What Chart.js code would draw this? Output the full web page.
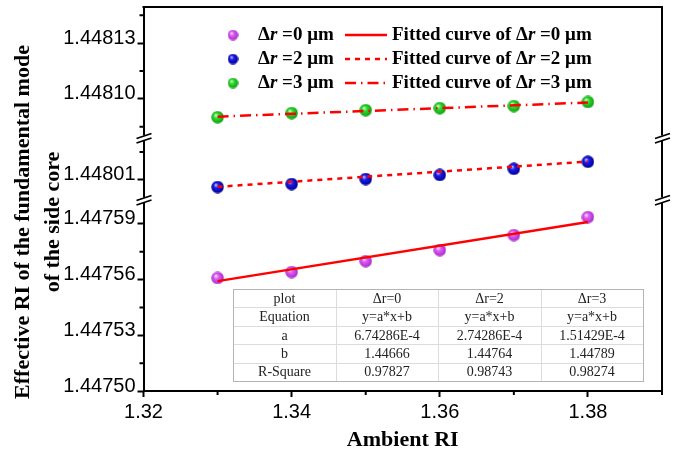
<!DOCTYPE html>
<html>
<head>
<meta charset="utf-8">
<script src="https://cdn.jsdelivr.net/npm/chart.js@4.4.1/dist/chart.umd.min.js"></script>
<style>
  html, body { margin: 0; padding: 0; background: #fff; }
</style>
</head>
<body>
<canvas id="myChart" width="682" height="453"></canvas>
<script>
// ambient refractive index (x) and effective index of the side-core mode (y)
var ambientRI = [1.33, 1.34, 1.35, 1.36, 1.37, 1.38];
var neffDr0 = [1.4475609, 1.4475641, 1.4475700, 1.4475759, 1.4475840, 1.4475937];
var neffDr2 = [1.4480062, 1.4480078, 1.4480105, 1.4480127, 1.4480160, 1.4480198];
var neffDr3 = [1.4480902, 1.4480924, 1.4480940, 1.4480951, 1.4480962, 1.4480984];

// fitted lines, end points
var fitRI = [1.33, 1.38];
var fitDr0 = [1.4475592, 1.4475910];
var fitDr2 = [1.4480063, 1.4480199];
var fitDr3 = [1.4480905, 1.4480981];

// fit table
var tableHead = ['plot', 'Δr=0', 'Δr=2', 'Δr=3'];
var fitEquation = ['y=a*x+b', 'y=a*x+b', 'y=a*x+b'];
var fitSlope = ['6.74286E-4', '2.74286E-4', '1.51429E-4'];
var fitIntercept = ['1.44666', '1.44764', '1.44789'];
var fitR2 = ['0.97827', '0.98743', '0.98274'];

// axis ticks
var xTicks = [1.32, 1.34, 1.36, 1.38];
var xMinor = [1.33, 1.35, 1.37, 1.39];
var yLowTicks = [1.44750, 1.44753, 1.44756, 1.44759];
var yLowMinor = [1.447515, 1.447545, 1.447575];
var yMidTicks = [1.44801];
var yMidMinor = [1.448025];
var yTopTicks = [1.44810, 1.44813];
var yTopMinor = [1.448085, 1.448115, 1.448145];

// broken axis ranges
var yLowRange = [1.44750, 1.4476029];
var yMidRange = [1.4479992, 1.4480326];
var yTopRange = [1.4480790, 1.4481495];

var labelFont = { family: 'Liberation Sans, Arial, sans-serif', size: 20 };
var serif = 'Liberation Serif, Times New Roman, serif';

function makeSphere(light, base, dark, size) {
  var c = document.createElement('canvas');
  c.width = size; c.height = size;
  var g = c.getContext('2d');
  var r = size / 2;
  var grad = g.createRadialGradient(r * 0.7, r * 0.65, r * 0.05, r, r, r);
  grad.addColorStop(0, light);
  grad.addColorStop(0.35, base);
  grad.addColorStop(1, dark);
  g.fillStyle = grad;
  g.beginPath();
  g.arc(r, r, r - 0.3, 0, Math.PI * 2);
  g.fill();
  return c;
}

var ballMag = makeSphere('#ffe0ff', '#dc5cf4', '#a828c8', 13);
var ballBlue = makeSphere('#c8c8ff', '#1a1af0', '#00008a', 13);
var ballGreen = makeSphere('#d8ffd8', '#2ee02e', '#0c9a0c', 13);
var legMag = makeSphere('#ffe0ff', '#dc5cf4', '#a828c8', 11);
var legBlue = makeSphere('#c8c8ff', '#1a1af0', '#00008a', 11);
var legGreen = makeSphere('#d8ffd8', '#2ee02e', '#0c9a0c', 11);

var dashDr2 = [5, 5];
var dashDr3 = [11, 5, 1.5, 5];

function pts(xs, ys) {
  return xs.map(function (x, i) { return { x: x, y: ys[i] }; });
}

function yScale(range, ticks, weight) {
  return {
    type: 'linear',
    position: 'left',
    stack: 'ri',
    stackWeight: weight,
    min: range[0],
    max: range[1],
    afterBuildTicks: function (s) { s.ticks = ticks.map(function (v) { return { value: v }; }); },
    afterFit: function (s) { s.width = 143.5; s.paddingTop = 0; s.paddingBottom = 0; },
    grid: { drawOnChartArea: false, tickLength: 6, tickWidth: 2, tickColor: '#000' },
    border: { display: true, width: 2, color: '#000' },
    ticks: {
      font: labelFont, color: '#000', padding: 2, labelOffset: -5,
      callback: function (v) { return v.toFixed(5); }
    }
  };
}

function richText(ctx, parts, x, y, size) {
  parts.forEach(function (p) {
    ctx.font = (p[1] ? 'italic ' : '') + 'bold ' + size + 'px ' + serif;
    ctx.fillText(p[0], x, y);
    x += ctx.measureText(p[0]).width;
  });
}

function drawBreak(ctx, x, c) {
  ctx.fillStyle = '#fff';
  ctx.fillRect(x - 2, c - 2.5, 4, 5);
  ctx.strokeStyle = '#000';
  ctx.lineWidth = 1.8;
  ctx.beginPath();
  ctx.moveTo(x - 7, c + 0.5); ctx.lineTo(x + 8, c - 4.5);
  ctx.moveTo(x - 7, c + 5); ctx.lineTo(x + 8, c);
  ctx.stroke();
}

var decor = {
  id: 'decor',
  afterDraw: function (chart) {
    var ctx = chart.ctx, a = chart.chartArea, sc = chart.scales;
    ctx.save();

    // top and right frame
    ctx.strokeStyle = '#000';
    ctx.lineWidth = 2;
    ctx.beginPath();
    ctx.moveTo(a.left - 1, a.top); ctx.lineTo(a.right, a.top); ctx.lineTo(a.right, a.bottom);
    ctx.stroke();

    // minor ticks
    ctx.lineWidth = 2;
    ctx.beginPath();
    [[sc.yLow, yLowMinor], [sc.yMid, yMidMinor], [sc.yTop, yTopMinor]].forEach(function (m) {
      m[1].forEach(function (v) {
        var y = m[0].getPixelForValue(v);
        ctx.moveTo(a.left - 4, y); ctx.lineTo(a.left, y);
      });
    });
    xMinor.forEach(function (v) {
      var x = sc.x.getPixelForValue(v);
      ctx.moveTo(x, a.bottom); ctx.lineTo(x, a.bottom + 4);
    });
    ctx.stroke();

    // axis breaks
    [sc.yTop.bottom, sc.yMid.bottom].forEach(function (c) {
      drawBreak(ctx, a.left, c);
      drawBreak(ctx, a.right, c);
    });

    // axis titles
    ctx.fillStyle = '#000';
    ctx.textAlign = 'center';
    ctx.textBaseline = 'middle';
    ctx.font = 'bold 22px ' + serif;
    ctx.fillText('Ambient RI', (a.left + a.right) / 2, 440);
    ctx.save();
    ctx.translate(23, 222);
    ctx.rotate(-Math.PI / 2);
    ctx.fillText('Effective RI of the fundamental mode', 0, 0);
    ctx.fillText('of the side core', 0, 30);
    ctx.restore();

    // legend
    var rows = [
      [legMag, '0', []],
      [legBlue, '2', dashDr2],
      [legGreen, '3', dashDr3]
    ];
    ctx.textAlign = 'left';
    rows.forEach(function (r, i) {
      var y = 35 + i * 24;
      ctx.drawImage(r[0], 233 - r[0].width / 2, y - r[0].height / 2);
      ctx.fillStyle = '#000';
      richText(ctx, [['Δ'], ['r', true], [' =' + r[1] + ' μm']], 258, y, 19);
      ctx.strokeStyle = '#f00';
      ctx.lineWidth = 2.5;
      ctx.setLineDash(r[2]);
      ctx.beginPath(); ctx.moveTo(345, y); ctx.lineTo(387, y); ctx.stroke();
      ctx.setLineDash([]);
      richText(ctx, [['Fitted curve of Δ'], ['r', true], [' =' + r[1] + ' μm']], 392, y, 19);
    });

    // fit table
    var cols = [233, 336, 438, 541, 643];
    var top = 289, rh = 18.4;
    var body = [tableHead, ['Equation'].concat(fitEquation), ['a'].concat(fitSlope),
                ['b'].concat(fitIntercept), ['R-Square'].concat(fitR2)];
    ctx.fillStyle = '#fff';
    ctx.fillRect(cols[0], top, cols[4] - cols[0], rh * 5);
    ctx.strokeStyle = '#dcdcdc';
    ctx.lineWidth = 1;
    ctx.beginPath();
    for (var i = 1; i < 5; i++) {
      ctx.moveTo(cols[0], Math.round(top + i * rh) + 0.5); ctx.lineTo(cols[4], Math.round(top + i * rh) + 0.5);
    }
    for (var j = 1; j < 4; j++) {
      ctx.moveTo(cols[j] + 0.5, top); ctx.lineTo(cols[j] + 0.5, top + 5 * rh);
    }
    ctx.stroke();
    ctx.strokeStyle = '#b4b4b4';
    ctx.strokeRect(cols[0] + 0.5, top + 0.5, cols[4] - cols[0], Math.round(rh * 5));
    ctx.fillStyle = '#222';
    ctx.textAlign = 'center';
    ctx.font = '14px ' + serif;
    body.forEach(function (row, r) {
      row.forEach(function (t, c) {
        ctx.fillText(t, (cols[c] + cols[c + 1]) / 2, top + r * rh + rh / 2 + 1);
      });
    });

    ctx.restore();
  }
};

new Chart(document.getElementById('myChart').getContext('2d'), {
  type: 'scatter',
  data: {
    datasets: [
      { data: pts(fitRI, fitDr0), yAxisID: 'yLow', showLine: true, pointRadius: 0, borderColor: '#ff0000', borderWidth: 2.5, order: 0 },
      { data: pts(fitRI, fitDr2), yAxisID: 'yMid', showLine: true, pointRadius: 0, borderColor: '#ff0000', borderWidth: 2.5, borderDash: dashDr2, order: 0 },
      { data: pts(fitRI, fitDr3), yAxisID: 'yTop', showLine: true, pointRadius: 0, borderColor: '#ff0000', borderWidth: 2.5, borderDash: dashDr3, order: 0 },
      { data: pts(ambientRI, neffDr0), yAxisID: 'yLow', pointStyle: ballMag, order: 1 },
      { data: pts(ambientRI, neffDr2), yAxisID: 'yMid', pointStyle: ballBlue, order: 1 },
      { data: pts(ambientRI, neffDr3), yAxisID: 'yTop', pointStyle: ballGreen, order: 1 }
    ]
  },
  options: {
    responsive: false,
    animation: false,
    layout: { padding: { top: 7, right: 20, left: 0, bottom: 0 } },
    plugins: { legend: { display: false }, tooltip: { enabled: false } },
    scales: {
      x: {
        type: 'linear',
        position: 'bottom',
        min: 1.32,
        max: 1.39,
        afterBuildTicks: function (s) { s.ticks = xTicks.map(function (v) { return { value: v }; }); },
        afterFit: function (s) { s.height = 62; s.paddingLeft = 0; s.paddingRight = 0; },
        grid: { drawOnChartArea: false, tickLength: 6, tickWidth: 2, tickColor: '#000' },
        border: { display: true, width: 2, color: '#000' },
        ticks: { font: labelFont, color: '#000', padding: 3, maxRotation: 0,
          callback: function (v) { return v.toFixed(2); } }
      },
      yLow: yScale(yLowRange, yLowTicks, 191),
      yMid: yScale(yMidRange, yMidTicks, 62),
      yTop: yScale(yTopRange, yTopTicks, 131)
    }
  },
  plugins: [decor]
});
</script>
</body>
</html>
